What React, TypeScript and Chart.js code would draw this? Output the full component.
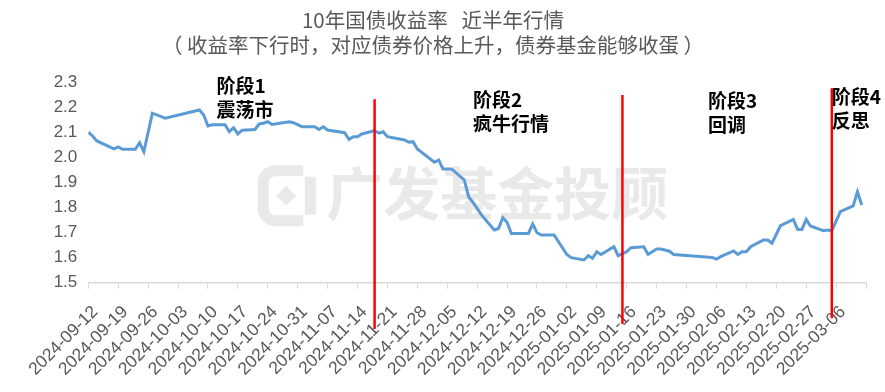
import React, { useEffect, useRef } from 'react';
import { Chart, registerables } from 'chart.js';

Chart.register(...registerables);

const BASE_DATE = '2024-09-12';
const AXIS_END_DATE = '2025-03-13';

const dates = [
  '2024-09-12', '2024-09-13', '2024-09-14', '2024-09-18', '2024-09-19', '2024-09-20',
  '2024-09-23', '2024-09-24', '2024-09-25', '2024-09-27', '2024-09-30', '2024-10-08',
  '2024-10-09', '2024-10-10', '2024-10-11', '2024-10-14', '2024-10-15', '2024-10-16',
  '2024-10-17', '2024-10-18', '2024-10-21', '2024-10-22', '2024-10-23', '2024-10-24',
  '2024-10-25', '2024-10-29', '2024-10-30', '2024-11-01', '2024-11-04', '2024-11-05',
  '2024-11-06', '2024-11-07', '2024-11-11', '2024-11-12', '2024-11-13', '2024-11-14',
  '2024-11-15', '2024-11-18', '2024-11-19', '2024-11-20', '2024-11-21', '2024-11-25',
  '2024-11-26', '2024-11-27', '2024-11-28', '2024-12-02', '2024-12-03', '2024-12-04',
  '2024-12-06', '2024-12-09', '2024-12-10', '2024-12-11', '2024-12-13', '2024-12-16',
  '2024-12-17', '2024-12-18', '2024-12-19', '2024-12-20', '2024-12-23', '2024-12-24',
  '2024-12-25', '2024-12-26', '2024-12-27', '2024-12-30', '2025-01-02', '2025-01-03',
  '2025-01-06', '2025-01-07', '2025-01-08', '2025-01-09', '2025-01-10', '2025-01-13',
  '2025-01-14', '2025-01-16', '2025-01-17', '2025-01-20', '2025-01-21', '2025-01-23',
  '2025-01-24', '2025-01-26', '2025-01-27', '2025-02-05', '2025-02-06', '2025-02-07',
  '2025-02-10', '2025-02-11', '2025-02-12', '2025-02-13', '2025-02-14', '2025-02-17',
  '2025-02-18', '2025-02-19', '2025-02-21', '2025-02-24', '2025-02-25', '2025-02-26',
  '2025-02-27', '2025-02-28', '2025-03-03', '2025-03-04', '2025-03-05', '2025-03-07',
  '2025-03-10', '2025-03-11', '2025-03-12',
];

const yields = [
  2.102, 2.087, 2.067, 2.035, 2.043, 2.034,
  2.034, 2.060, 2.024, 2.178, 2.158, 2.191,
  2.171, 2.127, 2.132, 2.132, 2.104, 2.120,
  2.095, 2.110, 2.113, 2.135, 2.138, 2.144,
  2.133, 2.144, 2.140, 2.124, 2.124, 2.113,
  2.124, 2.111, 2.100, 2.073, 2.084, 2.084,
  2.095, 2.108, 2.098, 2.104, 2.084, 2.071,
  2.062, 2.064, 2.035, 1.982, 1.991, 1.955,
  1.955, 1.911, 1.844, 1.822, 1.771, 1.711,
  1.717, 1.760, 1.742, 1.697, 1.697, 1.697,
  1.735, 1.700, 1.691, 1.691, 1.613, 1.600,
  1.591, 1.608, 1.598, 1.624, 1.613, 1.644,
  1.608, 1.624, 1.640, 1.644, 1.613, 1.635,
  1.635, 1.626, 1.613, 1.601, 1.594, 1.604,
  1.627, 1.613, 1.624, 1.624, 1.644, 1.671,
  1.671, 1.658, 1.728, 1.753, 1.713, 1.713,
  1.753, 1.727, 1.708, 1.711, 1.708, 1.784,
  1.807, 1.864, 1.811,
];

const tickLabels = [
  '2024-09-12', '2024-09-19', '2024-09-26', '2024-10-03', '2024-10-10', '2024-10-17',
  '2024-10-24', '2024-10-31', '2024-11-07', '2024-11-14', '2024-11-21', '2024-11-28',
  '2024-12-05', '2024-12-12', '2024-12-19', '2024-12-26', '2025-01-02', '2025-01-09',
  '2025-01-16', '2025-01-23', '2025-01-30', '2025-02-06', '2025-02-13', '2025-02-20',
  '2025-02-27', '2025-03-06',
];

const yTicks = [1.5, 1.6, 1.7, 1.8, 1.9, 2.0, 2.1, 2.2, 2.3];

const titleLines = [
  '10年国债收益率   近半年行情',
  '（ 收益率下行时，对应债券价格上升，债券基金能够收蛋 ）',
];

const phaseNames = ['阶段1', '阶段2', '阶段3', '阶段4'];
const phaseDescs = ['震荡市', '疯牛行情', '回调', '反思'];
const phaseTextDates = ['2024-10-12', '2024-12-11', '2025-02-04', '2025-03-05'];
const phaseTextLevels = [2.319, 2.262, 2.258, 2.274];

const phaseLineDates = ['2024-11-18', '2025-01-15', '2025-03-05'];
const phaseLineTops = [2.234, 2.251, 2.278];
const phaseLineBottoms = [1.315, 1.335, 1.358];

const watermarkText = '广发基金投顾';

const dayOf = (s: string) =>
  Math.round((Date.parse(s) - Date.parse(BASE_DATE)) / 86400000);

const LATIN = "'Liberation Sans', Arial, 'Noto Sans CJK SC', sans-serif";
const CJK = "'Noto Sans CJK SC', 'Liberation Sans', sans-serif";

const watermarkPlugin = {
  id: 'watermark',
  beforeDatasetsDraw(chart: any) {
    const { ctx, chartArea } = chart;
    const { left, top } = chartArea;
    ctx.save();
    ctx.fillStyle = '#e9e9e9';
    ctx.strokeStyle = '#e9e9e9';
    const cx = left + 197;
    const cy = top + 113;
    ctx.lineWidth = 11;
    ctx.lineJoin = 'round';
    const w = 44, h = 50, r = 12;
    ctx.beginPath();
    ctx.moveTo(cx + w / 2 - 4, cy - h / 2);
    ctx.lineTo(cx - w / 2 + r, cy - h / 2);
    ctx.arcTo(cx - w / 2, cy - h / 2, cx - w / 2, cy - h / 2 + r, r);
    ctx.lineTo(cx - w / 2, cy + h / 2 - r);
    ctx.arcTo(cx - w / 2, cy + h / 2, cx - w / 2 + r, cy + h / 2, r);
    ctx.lineTo(cx + w / 2 - 4, cy + h / 2);
    ctx.stroke();
    ctx.beginPath();
    ctx.moveTo(cx + w / 2 + 3, cy - h / 2 + 6);
    ctx.lineTo(cx + w / 2 + 3, cy + h / 2 - 6);
    ctx.stroke();
    ctx.beginPath();
    ctx.moveTo(cx - 9, cy);
    ctx.lineTo(cx + 1, cy - 10);
    ctx.lineTo(cx + 11, cy);
    ctx.lineTo(cx + 1, cy + 10);
    ctx.closePath();
    ctx.fill();
    ctx.font = `bold 57px ${CJK}`;
    ctx.textAlign = 'center';
    ctx.textBaseline = 'middle';
    ctx.fillText(watermarkText, left + 409, top + 111);
    ctx.restore();
  },
};

const phasePlugin = {
  id: 'phases',
  afterDatasetsDraw(chart: any) {
    const { ctx } = chart;
    const xs = chart.scales.x;
    const ys = chart.scales.y;
    ctx.save();
    ctx.strokeStyle = '#ff0000';
    ctx.lineWidth = 2.5;
    phaseLineDates.forEach((d, i) => {
      const x = xs.getPixelForValue(dayOf(d));
      ctx.beginPath();
      ctx.moveTo(x, ys.getPixelForValue(phaseLineTops[i]));
      ctx.lineTo(x, ys.getPixelForValue(phaseLineBottoms[i]));
      ctx.stroke();
    });
    ctx.fillStyle = '#000000';
    ctx.font = `bold 19px ${CJK}`;
    ctx.textAlign = 'left';
    ctx.textBaseline = 'top';
    phaseNames.forEach((n, i) => {
      const x = xs.getPixelForValue(dayOf(phaseTextDates[i]));
      const y = ys.getPixelForValue(phaseTextLevels[i]) - 2;
      ctx.fillText(n, x, y);
      ctx.fillText(phaseDescs[i], x, y + 24.5);
    });
    ctx.restore();
  },
};

export default function App() {
  const ref = useRef<HTMLCanvasElement | null>(null);

  useEffect(() => {
    document.body.style.margin = '0';
    const canvas = ref.current;
    if (!canvas) return;
    const labelMap = new Map<number, string>();
    tickLabels.forEach((l) => labelMap.set(dayOf(l), l));
    const axisMax = dayOf(AXIS_END_DATE);

    const chart = new Chart(canvas, {
      type: 'line',
      data: {
        datasets: [
          {
            data: dates.map((d, i) => ({ x: dayOf(d), y: yields[i] })),
            borderColor: '#5b9bd5',
            borderWidth: 3,
            pointRadius: 0,
            tension: 0,
            fill: false,
          },
        ],
      },
      options: {
        animation: false,
        responsive: true,
        maintainAspectRatio: false,
        layout: { padding: { left: 0, right: 19, top: 0, bottom: 0 } },
        plugins: {
          legend: { display: false },
          tooltip: { enabled: false },
          title: {
            display: true,
            text: titleLines,
            color: '#595959',
            font: { size: 20.5, family: CJK, weight: 'normal', lineHeight: 1.22 },
            padding: { top: 8, bottom: 24.7 },
          },
        },
        scales: {
          x: {
            type: 'linear',
            min: 0,
            max: axisMax,
            afterBuildTicks: (s: any) => {
              s.ticks = [...tickLabels.map((l) => ({ value: dayOf(l) })), { value: axisMax }];
            },
            afterFit: (s: any) => {
              s.height = 109.3;
              s.paddingLeft = 0;
              s.paddingRight = 0;
            },
            ticks: {
              autoSkip: false,
              minRotation: 45,
              maxRotation: 45,
              padding: 13,
              labelOffset: 7,
              color: '#595959',
              font: { size: 17.5, family: LATIN },
              callback: (v: any) => labelMap.get(Number(v)) ?? '',
            },
            grid: { drawOnChartArea: false, drawTicks: true, tickLength: 6, color: '#d9d9d9' },
            border: { display: true, color: '#d9d9d9', width: 1.5 },
          },
          y: {
            min: 1.5,
            max: 2.3,
            afterBuildTicks: (s: any) => {
              s.ticks = yTicks.map((v) => ({ value: v }));
            },
            afterFit: (s: any) => {
              s.width = 88.3;
            },
            ticks: {
              color: '#595959',
              padding: 11,
              font: { size: 17, family: LATIN },
              callback: (v: any) => Number(v).toFixed(1),
            },
            grid: { display: false, drawTicks: false },
            border: { display: false },
          },
        },
      },
      plugins: [watermarkPlugin, phasePlugin],
    } as any);
    return () => chart.destroy();
  }, []);

  return (
    <div style={{ width: 885, height: 392, position: 'relative' }}>
      <canvas ref={ref} />
    </div>
  );
}
